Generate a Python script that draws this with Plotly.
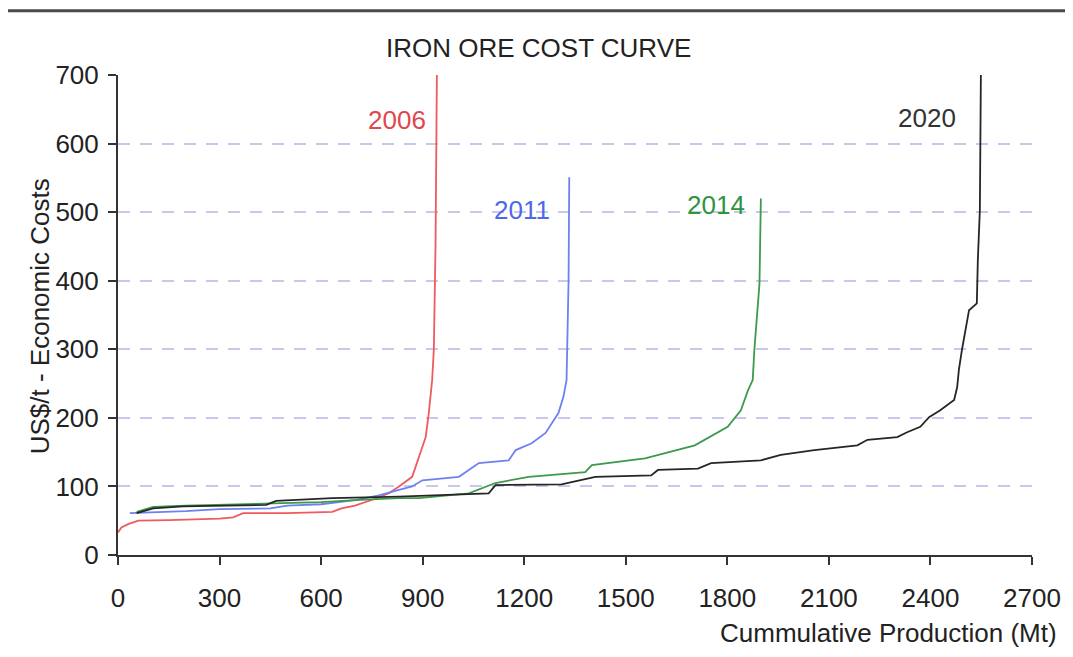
import plotly.graph_objects as go

# ---- data ----
x_2006 = [0, 10, 30, 60, 150, 300, 340, 370, 500, 633, 660, 700, 760, 800, 830, 869, 889, 909, 918, 928, 933, 938, 942]
y_2006 = [33, 40, 45, 50, 51, 53, 55, 61, 61, 63, 68, 72, 82, 90, 100, 114, 143, 172, 207, 255, 300, 450, 700]

x_2011 = [35, 100, 200, 300, 450, 500, 600, 700, 771, 830, 869, 899, 1007, 1045, 1066, 1154, 1175, 1222, 1263, 1301, 1316, 1325, 1331, 1333]
y_2011 = [61, 62, 64, 67, 68, 72, 74, 80, 87, 95, 100, 109, 114, 127, 134, 138, 153, 163, 178, 207, 231, 255, 400, 551]

x_2014 = [55, 104, 200, 400, 460, 600, 700, 830, 889, 1036, 1115, 1213, 1380, 1400, 1557, 1704, 1801, 1840, 1861, 1875, 1880, 1885, 1895, 1899]
y_2014 = [63, 70, 72, 74, 75, 77, 80, 83, 83, 90, 105, 114, 121, 131, 141, 160, 187, 211, 240, 255, 300, 333, 396, 520]

x_2020 = [55, 104, 192, 438, 467, 633, 830, 889, 968, 1095, 1115, 1310, 1410, 1575, 1595, 1713, 1752, 1899, 1958, 2057, 2184, 2214, 2302, 2331, 2370, 2396, 2429, 2470, 2479, 2484, 2493, 2508, 2514, 2537, 2540, 2546, 2549]
y_2020 = [61, 68, 71, 73, 79, 83, 85, 86, 87, 90, 102, 103, 114, 116, 124, 126, 134, 138, 146, 153, 160, 168, 172, 179, 187, 201, 211, 226, 245, 270, 299, 340, 357, 367, 430, 503, 700]

series_names = ["2006", "2011", "2014", "2020"]
label_x = [824, 1192, 1766, 2390]
label_y = [634, 503, 510, 638]

x_ticks = [0, 300, 600, 900, 1200, 1500, 1800, 2100, 2400, 2700]
y_ticks = [0, 100, 200, 300, 400, 500, 600, 700]

title_text = "IRON ORE COST CURVE"
x_title = "Cummulative Production (Mt)"
y_title = "US$/t - Economic Costs"

# ---- styling ----
line_colors = ["#ee5a5e", "#6f80f2", "#3d9a4a", "#262626"]
label_colors = ["#e0474d", "#4f68ea", "#2f9440", "#333333"]
FONT = "Liberation Sans, Arial, sans-serif"
FS = 26

xs = [x_2006, x_2011, x_2014, x_2020]
ys = [y_2006, y_2011, y_2014, y_2020]

fig = go.Figure()
for name, xv, yv, c in zip(series_names, xs, ys, line_colors):
    fig.add_trace(go.Scatter(x=xv, y=yv, mode="lines", name=name,
                             line=dict(color=c, width=1.8), showlegend=False))

for name, lx, ly, c in zip(series_names, label_x, label_y, label_colors):
    fig.add_annotation(x=lx, y=ly, text=name, showarrow=False,
                       font=dict(family=FONT, size=FS, color=c),
                       xanchor="center", yanchor="middle")

fig.add_annotation(xref="paper", yref="paper", x=0.460, y=1.056, text=title_text,
                   showarrow=False, font=dict(family=FONT, size=FS, color="#222"),
                   xanchor="center", yanchor="middle")
fig.add_annotation(xref="paper", yref="paper", x=1.0295, y=-0.1625, text=x_title,
                   showarrow=False, font=dict(family=FONT, size=FS, color="#222"),
                   xanchor="right", yanchor="middle")
fig.add_annotation(xref="paper", yref="paper", x=-0.085, y=0.498, text=y_title,
                   showarrow=False, textangle=-90,
                   font=dict(family=FONT, size=FS, color="#222"),
                   xanchor="center", yanchor="middle")

# top rule (kept inside the figure area)
fig.add_shape(type="line", xref="paper", yref="paper",
              x0=-0.13, x1=1.05, y0=1.134, y1=1.134,
              line=dict(color="#4a4a4a", width=3))

# page body has an 8px margin: shrink figure and margins so the plot area
# sits at the same window pixels as the reference
fig.update_layout(
    width=1065, height=649,
    margin=dict(l=110, r=38, t=67, b=102),
    paper_bgcolor="white", plot_bgcolor="white",
    font=dict(family=FONT, size=FS, color="#222"),
)
fig.update_xaxes(range=[0, 2700], tickvals=x_ticks, showgrid=False, zeroline=False,
                 showline=True, linecolor="#333", linewidth=2,
                 ticks="outside", ticklen=8, tickwidth=2, tickcolor="#333",
                 ticklabelstandoff=11, tickfont=dict(family=FONT, size=FS, color="#222"))
fig.update_yaxes(range=[0, 700], tickvals=y_ticks, showgrid=True,
                 gridcolor="#c8c8ee", griddash="12px,10px", gridwidth=1.5,
                 zeroline=False, showline=True, linecolor="#333", linewidth=2,
                 ticks="outside", ticklen=8, tickwidth=2, tickcolor="#333",
                 ticklabelstandoff=4, tickfont=dict(family=FONT, size=FS, color="#222"))

fig.write_html("out.html")
